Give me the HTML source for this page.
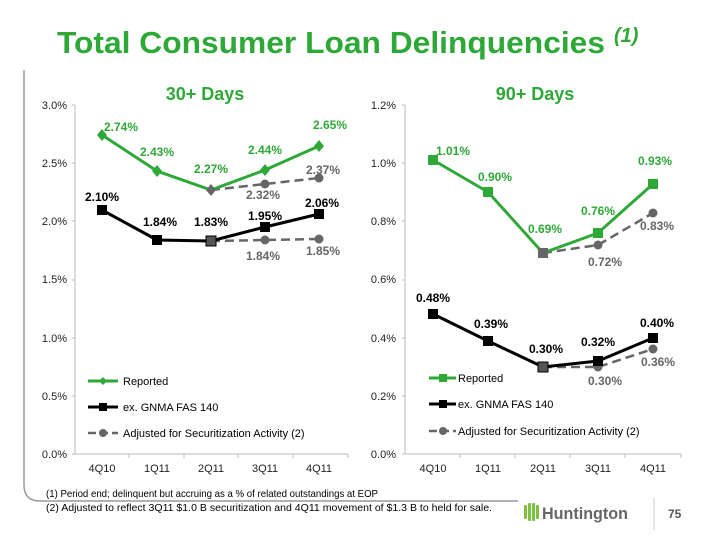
<!DOCTYPE html>
<html><head><meta charset="utf-8"><style>
body{margin:0;background:#fff}
svg{display:block;font-family:"Liberation Sans",Arial,sans-serif}
</style></head><body>
<svg width="720" height="540" viewBox="0 0 720 540" xmlns="http://www.w3.org/2000/svg">
<text x="57" y="53" font-size="31" font-weight="bold" fill="#2ea836" textLength="548" lengthAdjust="spacingAndGlyphs">Total Consumer Loan Delinquencies</text>
<text x="614" y="42" font-size="20" font-weight="bold" font-style="italic" fill="#2ea836">(1)</text>
<path d="M24 70 V485 Q24 501 40 501 H518" fill="none" stroke="#999" stroke-width="1.5"/>
<text x="205" y="100" font-size="18" font-weight="bold" fill="#2ea836" text-anchor="middle">30+ Days</text>
<text x="535" y="100" font-size="18" font-weight="bold" fill="#2ea836" text-anchor="middle">90+ Days</text>

<!-- Chart 1 -->
<g font-size="11" fill="#222" text-anchor="end">
<text x="67" y="109">3.0%</text><text x="67" y="167">2.5%</text><text x="67" y="225">2.0%</text><text x="67" y="283">1.5%</text><text x="67" y="342">1.0%</text><text x="67" y="400">0.5%</text><text x="67" y="458">0.0%</text>
</g>
<g stroke="#bbb" stroke-width="1">
<line x1="75" y1="105" x2="75" y2="454"/><line x1="75" y1="454" x2="348" y2="454"/>
<line x1="72" y1="105" x2="75" y2="105"/><line x1="72" y1="163" x2="75" y2="163"/><line x1="72" y1="221" x2="75" y2="221"/><line x1="72" y1="280" x2="75" y2="280"/><line x1="72" y1="338" x2="75" y2="338"/><line x1="72" y1="396" x2="75" y2="396"/><line x1="72" y1="454" x2="75" y2="454"/>
<line x1="129" y1="454" x2="129" y2="458"/><line x1="184" y1="454" x2="184" y2="458"/><line x1="238" y1="454" x2="238" y2="458"/><line x1="293" y1="454" x2="293" y2="458"/><line x1="348" y1="454" x2="348" y2="458"/>
</g>
<g font-size="11" fill="#222" text-anchor="middle">
<text x="102" y="472">4Q10</text><text x="157" y="472">1Q11</text><text x="211" y="472">2Q11</text><text x="265" y="472">3Q11</text><text x="319" y="472">4Q11</text>
</g>
<polyline points="211,190 265,184 319,178" fill="none" stroke="#666" stroke-width="2.5" stroke-dasharray="9,5"/>
<polyline points="211,241 265,240 319,239" fill="none" stroke="#666" stroke-width="2.5" stroke-dasharray="9,5"/>
<g fill="#666"><circle cx="265" cy="184" r="4.5"/><circle cx="319" cy="178" r="4.5"/><circle cx="265" cy="240" r="4.5"/><circle cx="319" cy="239" r="4.5"/></g>
<polyline points="102,135 157,171 211,190 265,170 319,146" fill="none" stroke="#2ea836" stroke-width="3"/>
<g fill="#2ea836"><path d="M102 129l5 6-5 6-5-6z"/><path d="M157 165l5 6-5 6-5-6z"/><path d="M211 184l5 6-5 6-5-6z" fill="#666"/><path d="M265 164l5 6-5 6-5-6z"/><path d="M319 140l5 6-5 6-5-6z"/></g>
<polyline points="102,210 157,240 211,241 265,227 319,214" fill="none" stroke="#000" stroke-width="3"/>
<g fill="#000"><rect x="97" y="205" width="10" height="10"/><rect x="152" y="235" width="10" height="10"/><rect x="206" y="236" width="10" height="10" fill="#555" stroke="#000"/><rect x="260" y="222" width="10" height="10"/><rect x="314" y="209" width="10" height="10"/></g>
<g font-size="12" font-weight="bold" fill="#2ea836" text-anchor="middle">
<text x="121" y="131">2.74%</text><text x="157" y="156">2.43%</text><text x="211" y="173">2.27%</text><text x="265" y="154">2.44%</text><text x="330" y="129">2.65%</text>
</g>
<g font-size="12" font-weight="bold" fill="#000" text-anchor="middle">
<text x="102" y="201">2.10%</text><text x="160" y="226">1.84%</text><text x="211" y="226">1.83%</text><text x="265" y="220">1.95%</text><text x="322" y="207">2.06%</text>
</g>
<g font-size="12" font-weight="bold" fill="#666" text-anchor="middle">
<text x="263" y="199">2.32%</text><text x="323" y="174">2.37%</text><text x="263" y="260">1.84%</text><text x="323" y="255">1.85%</text>
</g>
<line x1="88" y1="381" x2="118" y2="381" stroke="#2ea836" stroke-width="3"/><path d="M103 377l4 4-4 4-4-4z" fill="#2ea836"/>
<line x1="88" y1="407" x2="118" y2="407" stroke="#000" stroke-width="3"/><rect x="99" y="403" width="8" height="8"/>
<line x1="88" y1="433" x2="118" y2="433" stroke="#666" stroke-width="2.5" stroke-dasharray="8,4"/><circle cx="103" cy="433" r="4" fill="#666"/>
<g font-size="11" fill="#000"><text x="123" y="385">Reported</text><text x="123" y="411">ex. GNMA FAS 140</text><text x="123" y="437">Adjusted for Securitization Activity (2)</text></g>

<!-- Chart 2 -->
<g font-size="11" fill="#222" text-anchor="end">
<text x="396" y="109">1.2%</text><text x="396" y="167">1.0%</text><text x="396" y="225">0.8%</text><text x="396" y="283">0.6%</text><text x="396" y="342">0.4%</text><text x="396" y="400">0.2%</text><text x="396" y="458">0.0%</text>
</g>
<g stroke="#bbb" stroke-width="1">
<line x1="405" y1="105" x2="405" y2="454"/><line x1="405" y1="454" x2="681" y2="454"/>
<line x1="402" y1="105" x2="405" y2="105"/><line x1="402" y1="163" x2="405" y2="163"/><line x1="402" y1="221" x2="405" y2="221"/><line x1="402" y1="280" x2="405" y2="280"/><line x1="402" y1="338" x2="405" y2="338"/><line x1="402" y1="396" x2="405" y2="396"/><line x1="402" y1="454" x2="405" y2="454"/>
<line x1="460" y1="454" x2="460" y2="458"/><line x1="515" y1="454" x2="515" y2="458"/><line x1="570" y1="454" x2="570" y2="458"/><line x1="625" y1="454" x2="625" y2="458"/><line x1="681" y1="454" x2="681" y2="458"/>
</g>
<g font-size="11" fill="#222" text-anchor="middle">
<text x="433" y="472">4Q10</text><text x="488" y="472">1Q11</text><text x="543" y="472">2Q11</text><text x="598" y="472">3Q11</text><text x="653" y="472">4Q11</text>
</g>
<polyline points="543,253 598,245 653,213" fill="none" stroke="#666" stroke-width="2.5" stroke-dasharray="9,5"/>
<polyline points="543,367 598,367 653,349" fill="none" stroke="#666" stroke-width="2.5" stroke-dasharray="9,5"/>
<g fill="#666"><circle cx="598" cy="245" r="4.5"/><circle cx="653" cy="213" r="4.5"/><circle cx="598" cy="367" r="4.5"/><circle cx="653" cy="349" r="4.5"/></g>
<polyline points="433,160 488,192 543,253 598,233 653,184" fill="none" stroke="#2ea836" stroke-width="3"/>
<g fill="#2ea836"><rect x="428" y="155" width="10" height="10"/><rect x="483" y="187" width="10" height="10"/><rect x="538" y="248" width="10" height="10" fill="#666"/><rect x="593" y="228" width="10" height="10"/><rect x="648" y="179" width="10" height="10"/></g>
<polyline points="433,314 488,341 543,367 598,361 653,338" fill="none" stroke="#000" stroke-width="3"/>
<g fill="#000"><rect x="428" y="309" width="10" height="10"/><rect x="483" y="336" width="10" height="10"/><rect x="538" y="362" width="10" height="10" fill="#555" stroke="#000"/><rect x="593" y="356" width="10" height="10"/><rect x="648" y="333" width="10" height="10"/></g>
<g font-size="12" font-weight="bold" fill="#2ea836" text-anchor="middle">
<text x="453" y="155">1.01%</text><text x="495" y="181">0.90%</text><text x="545" y="233">0.69%</text><text x="598" y="215">0.76%</text><text x="655" y="165">0.93%</text>
</g>
<g font-size="12" font-weight="bold" fill="#000" text-anchor="middle">
<text x="433" y="302">0.48%</text><text x="491" y="328">0.39%</text><text x="546" y="353">0.30%</text><text x="598" y="346">0.32%</text><text x="657" y="327">0.40%</text>
</g>
<g font-size="12" font-weight="bold" fill="#666" text-anchor="middle">
<text x="605" y="266">0.72%</text><text x="657" y="230">0.83%</text><text x="605" y="385">0.30%</text><text x="658" y="366">0.36%</text>
</g>
<line x1="429" y1="378" x2="456" y2="378" stroke="#2ea836" stroke-width="3"/><rect x="439" y="374" width="8" height="8" fill="#2ea836"/>
<line x1="429" y1="404" x2="456" y2="404" stroke="#000" stroke-width="3"/><rect x="439" y="400" width="8" height="8"/>
<line x1="429" y1="431" x2="456" y2="431" stroke="#666" stroke-width="2.5" stroke-dasharray="8,4"/><circle cx="443" cy="431" r="4" fill="#666"/>
<g font-size="11" fill="#000"><text x="458" y="382">Reported</text><text x="458" y="408">ex. GNMA FAS 140</text><text x="458" y="435">Adjusted for Securitization Activity (2)</text></g>

<!-- footnotes -->
<g font-size="10.5" fill="#000">
<text x="46" y="497" textLength="332" lengthAdjust="spacingAndGlyphs">(1)  Period end; delinquent but accruing as a % of related outstandings at EOP</text>
<text x="46" y="511" textLength="446" lengthAdjust="spacingAndGlyphs">(2)  Adjusted to reflect 3Q11  $1.0 B securitization and 4Q11 movement of $1.3 B to held for sale.</text>
</g>
<g fill="#7cc142">
<rect x="524" y="505" width="3" height="14" rx="1"/><rect x="528" y="503" width="3" height="18" rx="1"/><rect x="532" y="503" width="3" height="18" rx="1"/><rect x="536" y="505" width="3" height="14" rx="1"/>
</g>
<text x="542" y="519" font-size="17" font-weight="bold" fill="#666" textLength="86" lengthAdjust="spacingAndGlyphs">Huntington</text>
<line x1="654" y1="498" x2="654" y2="530" stroke="#ccc" stroke-width="1"/>
<text x="668" y="518" font-size="12" font-weight="bold" fill="#555">75</text>
</svg>
</body></html>
